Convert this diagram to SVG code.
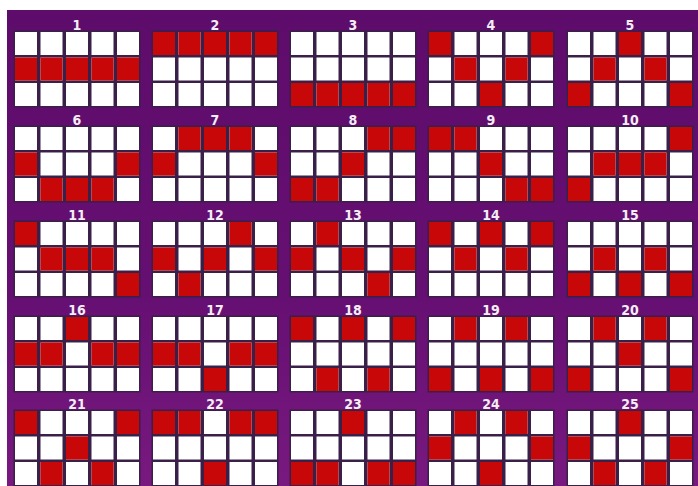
<svg xmlns="http://www.w3.org/2000/svg" xmlns:xlink="http://www.w3.org/1999/xlink" width="698" height="486" viewBox="0 0 698 486">
<style>
.bk{fill:#3a1f48}
.w{fill:#ffffff}
.r{fill:#c80808}
.n{font-family:"DejaVu Sans Condensed","Liberation Sans Narrow","Liberation Sans",sans-serif;font-weight:bold;font-size:14px;fill:#f4eef4;text-anchor:middle}
</style>
<defs>
<linearGradient id="bgg" x1="0" y1="0" x2="0" y2="1">
<stop offset="0" stop-color="#5e0c6c"/>
<stop offset="0.6" stop-color="#660f72"/>
<stop offset="1" stop-color="#78197f"/>
</linearGradient>
<g id="grid">
<rect class="bk" x="-1.5" y="-1.5" width="127" height="77"/>
<rect class="w" x="0" y="0" width="22" height="23"/><rect class="w" x="25.5" y="0" width="22" height="23"/><rect class="w" x="51" y="0" width="22" height="23"/><rect class="w" x="76.5" y="0" width="22" height="23"/><rect class="w" x="102" y="0" width="22" height="23"/>
<rect class="w" x="0" y="25.5" width="22" height="23"/><rect class="w" x="25.5" y="25.5" width="22" height="23"/><rect class="w" x="51" y="25.5" width="22" height="23"/><rect class="w" x="76.5" y="25.5" width="22" height="23"/><rect class="w" x="102" y="25.5" width="22" height="23"/>
<rect class="w" x="0" y="51" width="22" height="23"/><rect class="w" x="25.5" y="51" width="22" height="23"/><rect class="w" x="51" y="51" width="22" height="23"/><rect class="w" x="76.5" y="51" width="22" height="23"/><rect class="w" x="102" y="51" width="22" height="23"/>
</g>
<rect id="c" width="22" height="23"/>
</defs>
<rect x="0" y="0" width="698" height="486" fill="#ffffff"/>
<rect x="7" y="10" width="691" height="476" fill="url(#bgg)"/>

<g id="line-1" transform="translate(15,32)"><use href="#grid"/><text class="n" x="62" y="-2">1</text>
<use href="#c" class="r" x="0" y="25.5"/><use href="#c" class="r" x="25.5" y="25.5"/><use href="#c" class="r" x="51" y="25.5"/><use href="#c" class="r" x="76.5" y="25.5"/><use href="#c" class="r" x="102" y="25.5"/></g>
<g id="line-2" transform="translate(153,32)"><use href="#grid"/><text class="n" x="62" y="-2">2</text>
<use href="#c" class="r" x="0" y="0"/><use href="#c" class="r" x="25.5" y="0"/><use href="#c" class="r" x="51" y="0"/><use href="#c" class="r" x="76.5" y="0"/><use href="#c" class="r" x="102" y="0"/></g>
<g id="line-3" transform="translate(291,32)"><use href="#grid"/><text class="n" x="62" y="-2">3</text>
<use href="#c" class="r" x="0" y="51"/><use href="#c" class="r" x="25.5" y="51"/><use href="#c" class="r" x="51" y="51"/><use href="#c" class="r" x="76.5" y="51"/><use href="#c" class="r" x="102" y="51"/></g>
<g id="line-4" transform="translate(429,32)"><use href="#grid"/><text class="n" x="62" y="-2">4</text>
<use href="#c" class="r" x="0" y="0"/><use href="#c" class="r" x="102" y="0"/><use href="#c" class="r" x="25.5" y="25.5"/><use href="#c" class="r" x="76.5" y="25.5"/><use href="#c" class="r" x="51" y="51"/></g>
<g id="line-5" transform="translate(568,32)"><use href="#grid"/><text class="n" x="62" y="-2">5</text>
<use href="#c" class="r" x="51" y="0"/><use href="#c" class="r" x="25.5" y="25.5"/><use href="#c" class="r" x="76.5" y="25.5"/><use href="#c" class="r" x="0" y="51"/><use href="#c" class="r" x="102" y="51"/></g>

<g id="line-6" transform="translate(15,127)"><use href="#grid"/><text class="n" x="62" y="-2">6</text>
<use href="#c" class="r" x="0" y="25.5"/><use href="#c" class="r" x="102" y="25.5"/><use href="#c" class="r" x="25.5" y="51"/><use href="#c" class="r" x="51" y="51"/><use href="#c" class="r" x="76.5" y="51"/></g>
<g id="line-7" transform="translate(153,127)"><use href="#grid"/><text class="n" x="62" y="-2">7</text>
<use href="#c" class="r" x="25.5" y="0"/><use href="#c" class="r" x="51" y="0"/><use href="#c" class="r" x="76.5" y="0"/><use href="#c" class="r" x="0" y="25.5"/><use href="#c" class="r" x="102" y="25.5"/></g>
<g id="line-8" transform="translate(291,127)"><use href="#grid"/><text class="n" x="62" y="-2">8</text>
<use href="#c" class="r" x="76.5" y="0"/><use href="#c" class="r" x="102" y="0"/><use href="#c" class="r" x="51" y="25.5"/><use href="#c" class="r" x="0" y="51"/><use href="#c" class="r" x="25.5" y="51"/></g>
<g id="line-9" transform="translate(429,127)"><use href="#grid"/><text class="n" x="62" y="-2">9</text>
<use href="#c" class="r" x="0" y="0"/><use href="#c" class="r" x="25.5" y="0"/><use href="#c" class="r" x="51" y="25.5"/><use href="#c" class="r" x="76.5" y="51"/><use href="#c" class="r" x="102" y="51"/></g>
<g id="line-10" transform="translate(568,127)"><use href="#grid"/><text class="n" x="62" y="-2">10</text>
<use href="#c" class="r" x="102" y="0"/><use href="#c" class="r" x="25.5" y="25.5"/><use href="#c" class="r" x="51" y="25.5"/><use href="#c" class="r" x="76.5" y="25.5"/><use href="#c" class="r" x="0" y="51"/></g>

<g id="line-11" transform="translate(15,222)"><use href="#grid"/><text class="n" x="62" y="-2">11</text>
<use href="#c" class="r" x="0" y="0"/><use href="#c" class="r" x="25.5" y="25.5"/><use href="#c" class="r" x="51" y="25.5"/><use href="#c" class="r" x="76.5" y="25.5"/><use href="#c" class="r" x="102" y="51"/></g>
<g id="line-12" transform="translate(153,222)"><use href="#grid"/><text class="n" x="62" y="-2">12</text>
<use href="#c" class="r" x="76.5" y="0"/><use href="#c" class="r" x="0" y="25.5"/><use href="#c" class="r" x="51" y="25.5"/><use href="#c" class="r" x="102" y="25.5"/><use href="#c" class="r" x="25.5" y="51"/></g>
<g id="line-13" transform="translate(291,222)"><use href="#grid"/><text class="n" x="62" y="-2">13</text>
<use href="#c" class="r" x="25.5" y="0"/><use href="#c" class="r" x="0" y="25.5"/><use href="#c" class="r" x="51" y="25.5"/><use href="#c" class="r" x="102" y="25.5"/><use href="#c" class="r" x="76.5" y="51"/></g>
<g id="line-14" transform="translate(429,222)"><use href="#grid"/><text class="n" x="62" y="-2">14</text>
<use href="#c" class="r" x="0" y="0"/><use href="#c" class="r" x="51" y="0"/><use href="#c" class="r" x="102" y="0"/><use href="#c" class="r" x="25.5" y="25.5"/><use href="#c" class="r" x="76.5" y="25.5"/></g>
<g id="line-15" transform="translate(568,222)"><use href="#grid"/><text class="n" x="62" y="-2">15</text>
<use href="#c" class="r" x="25.5" y="25.5"/><use href="#c" class="r" x="76.5" y="25.5"/><use href="#c" class="r" x="0" y="51"/><use href="#c" class="r" x="51" y="51"/><use href="#c" class="r" x="102" y="51"/></g>

<g id="line-16" transform="translate(15,317)"><use href="#grid"/><text class="n" x="62" y="-2">16</text>
<use href="#c" class="r" x="51" y="0"/><use href="#c" class="r" x="0" y="25.5"/><use href="#c" class="r" x="25.5" y="25.5"/><use href="#c" class="r" x="76.5" y="25.5"/><use href="#c" class="r" x="102" y="25.5"/></g>
<g id="line-17" transform="translate(153,317)"><use href="#grid"/><text class="n" x="62" y="-2">17</text>
<use href="#c" class="r" x="0" y="25.5"/><use href="#c" class="r" x="25.5" y="25.5"/><use href="#c" class="r" x="76.5" y="25.5"/><use href="#c" class="r" x="102" y="25.5"/><use href="#c" class="r" x="51" y="51"/></g>
<g id="line-18" transform="translate(291,317)"><use href="#grid"/><text class="n" x="62" y="-2">18</text>
<use href="#c" class="r" x="0" y="0"/><use href="#c" class="r" x="51" y="0"/><use href="#c" class="r" x="102" y="0"/><use href="#c" class="r" x="25.5" y="51"/><use href="#c" class="r" x="76.5" y="51"/></g>
<g id="line-19" transform="translate(429,317)"><use href="#grid"/><text class="n" x="62" y="-2">19</text>
<use href="#c" class="r" x="25.5" y="0"/><use href="#c" class="r" x="76.5" y="0"/><use href="#c" class="r" x="0" y="51"/><use href="#c" class="r" x="51" y="51"/><use href="#c" class="r" x="102" y="51"/></g>
<g id="line-20" transform="translate(568,317)"><use href="#grid"/><text class="n" x="62" y="-2">20</text>
<use href="#c" class="r" x="25.5" y="0"/><use href="#c" class="r" x="76.5" y="0"/><use href="#c" class="r" x="51" y="25.5"/><use href="#c" class="r" x="0" y="51"/><use href="#c" class="r" x="102" y="51"/></g>

<g id="line-21" transform="translate(15,411)"><use href="#grid"/><text class="n" x="62" y="-2">21</text>
<use href="#c" class="r" x="0" y="0"/><use href="#c" class="r" x="102" y="0"/><use href="#c" class="r" x="51" y="25.5"/><use href="#c" class="r" x="25.5" y="51"/><use href="#c" class="r" x="76.5" y="51"/></g>
<g id="line-22" transform="translate(153,411)"><use href="#grid"/><text class="n" x="62" y="-2">22</text>
<use href="#c" class="r" x="0" y="0"/><use href="#c" class="r" x="25.5" y="0"/><use href="#c" class="r" x="76.5" y="0"/><use href="#c" class="r" x="102" y="0"/><use href="#c" class="r" x="51" y="51"/></g>
<g id="line-23" transform="translate(291,411)"><use href="#grid"/><text class="n" x="62" y="-2">23</text>
<use href="#c" class="r" x="51" y="0"/><use href="#c" class="r" x="0" y="51"/><use href="#c" class="r" x="25.5" y="51"/><use href="#c" class="r" x="76.5" y="51"/><use href="#c" class="r" x="102" y="51"/></g>
<g id="line-24" transform="translate(429,411)"><use href="#grid"/><text class="n" x="62" y="-2">24</text>
<use href="#c" class="r" x="25.5" y="0"/><use href="#c" class="r" x="76.5" y="0"/><use href="#c" class="r" x="0" y="25.5"/><use href="#c" class="r" x="102" y="25.5"/><use href="#c" class="r" x="51" y="51"/></g>
<g id="line-25" transform="translate(568,411)"><use href="#grid"/><text class="n" x="62" y="-2">25</text>
<use href="#c" class="r" x="51" y="0"/><use href="#c" class="r" x="0" y="25.5"/><use href="#c" class="r" x="102" y="25.5"/><use href="#c" class="r" x="25.5" y="51"/><use href="#c" class="r" x="76.5" y="51"/></g>
</svg>
